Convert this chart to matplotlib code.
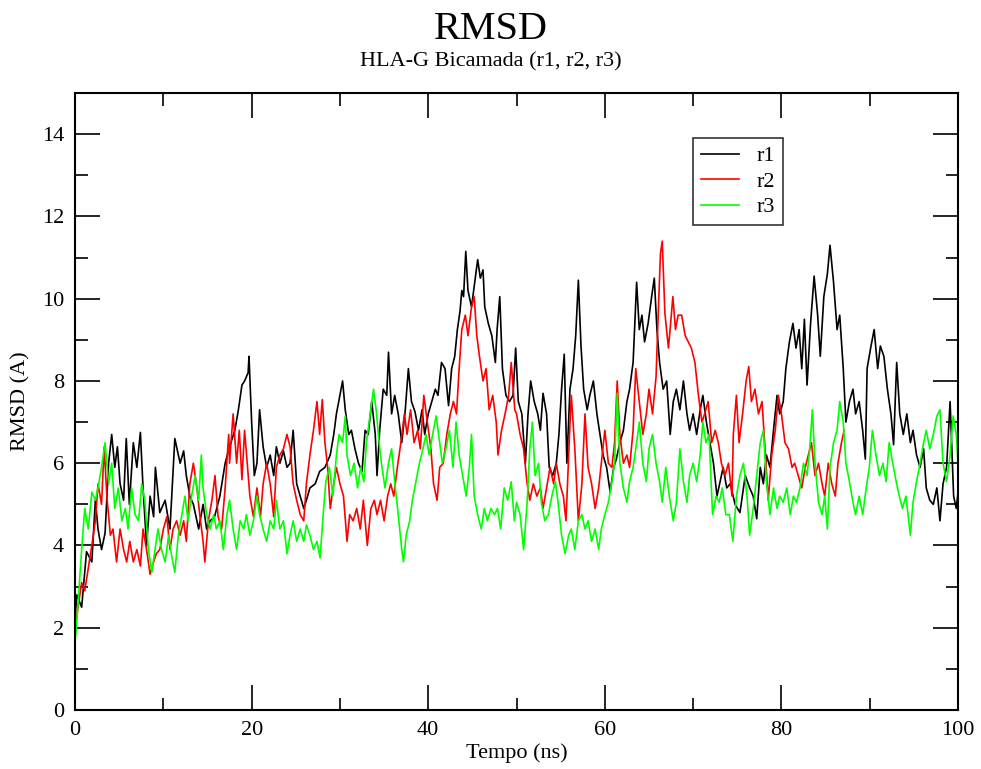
import matplotlib
matplotlib.use("Agg")
import matplotlib.pyplot as plt
from matplotlib.ticker import MultipleLocator

plt.rcParams['font.family'] = ['Liberation Serif', 'DejaVu Serif']

# r1 (black)
r1_t = [0.0, 0.2, 0.75, 1.3, 1.9, 2.3, 2.6, 3.0, 3.4, 3.8, 4.15, 4.5, 4.8, 5.1, 5.5, 5.8, 6.15, 6.6,
        7.0, 7.4, 7.7, 8.1, 8.5, 8.9, 9.1, 9.6, 10.2, 10.75, 11.3, 11.9, 12.3, 12.6, 13.0, 13.4, 14.0,
        14.5, 14.9, 15.3, 15.8, 16.4, 17.0, 17.5, 18.1, 18.5, 18.9, 19.2, 19.6, 19.7, 20.0, 20.3, 20.6,
        20.9, 21.3, 21.7, 22.1, 22.5, 22.8, 23.2, 23.6, 24.0, 24.35, 24.7, 25.1, 25.5, 25.9, 26.2,
        26.6, 27.2, 27.7, 28.3, 28.9, 29.3, 29.6, 30.0, 30.3, 30.6, 31.0, 31.3, 31.7, 32.1, 32.5,
        32.85, 33.2, 33.6, 34.0, 34.2, 34.5, 34.9, 35.3, 35.5, 35.85, 36.2, 36.6, 37.0, 37.4, 37.75,
        38.1, 38.5, 38.9, 39.3, 39.6, 40.0, 40.4, 40.8, 41.1, 41.5, 41.9, 42.3, 42.65, 43.0, 43.3,
        43.6, 43.8, 44.0, 44.25, 44.5, 44.9, 45.3, 45.6, 45.9, 46.2, 46.4, 46.8, 47.2, 47.6, 47.8,
        48.1, 48.4, 48.8, 49.2, 49.6, 49.9, 50.2, 50.6, 51.0, 51.3, 51.6, 52.0, 52.4, 52.7, 53.0,
        53.4, 53.7, 54.1, 54.5, 54.8, 55.1, 55.4, 55.7, 56.05, 56.4, 56.7, 57.0, 57.3, 57.6, 58.0,
        58.3, 58.7, 59.1, 59.45, 59.8, 60.2, 60.6, 61.0, 61.3, 61.7, 62.1, 62.5, 62.8, 63.2, 63.6,
        63.9, 64.2, 64.5, 64.9, 65.3, 65.6, 65.9, 66.2, 66.6, 67.0, 67.4, 67.75, 68.1, 68.5, 68.9,
        69.3, 69.6, 70.0, 70.4, 70.8, 71.1, 71.5, 71.9, 72.3, 72.7, 73.0, 73.4, 73.8, 74.2, 74.75,
        75.3, 75.9, 76.4, 76.8, 77.2, 77.6, 77.95, 78.3, 78.7, 79.1, 79.5, 79.8, 80.2, 80.5, 80.9,
        81.3, 81.65, 82.0, 82.3, 82.6, 82.9, 83.3, 83.7, 84.1, 84.4, 84.8, 85.2, 85.5, 85.9, 86.3,
        86.6, 87.0, 87.3, 87.7, 88.1, 88.4, 88.8, 89.2, 89.5, 89.7, 90.1, 90.5, 90.9, 91.2, 91.6,
        92.0, 92.4, 92.7, 93.05, 93.4, 93.8, 94.2, 94.6, 94.9, 95.3, 95.7, 96.1, 96.4, 96.8, 97.2,
        97.6, 97.95, 98.3, 98.7, 99.1, 99.5, 99.8, 100.0]
r1_y = [2.2, 2.8, 2.5, 3.85, 3.6, 5.1, 4.4, 3.9, 4.3, 6.0, 6.7, 5.9, 6.4, 5.5, 5.1, 6.6, 5.0, 6.5,
        5.9, 6.75, 5.4, 4.0, 5.2, 4.7, 5.9, 4.8, 5.1, 4.4, 6.6, 6.0, 6.3, 5.7, 5.2, 5.0, 4.4,
        5.0, 4.4, 4.6, 4.7, 5.2, 6.0, 6.4, 6.8, 7.3, 7.9, 8.0, 8.2, 8.6, 7.0, 5.7, 6.0,
        7.3, 6.4, 5.9, 6.2, 5.7, 6.4, 6.0, 6.3, 5.9, 6.0, 6.8, 5.5, 5.2, 4.9, 5.1,
        5.4, 5.5, 5.8, 5.9, 6.2, 6.7, 7.2, 7.65, 8.0, 7.3, 6.7, 6.8, 6.35, 6.0, 5.8,
        6.8, 6.7, 7.5, 6.7, 5.7, 6.8, 7.8, 7.65, 8.7, 7.2, 7.65, 7.2, 6.5, 7.3, 8.3,
        7.5, 7.25, 6.8, 7.3, 6.7, 7.2, 7.5, 7.8, 7.65, 8.45, 8.3, 7.4, 8.3, 8.6, 9.25,
        9.7, 10.2, 10.05, 11.15, 10.2, 9.8, 10.45, 10.95, 10.5, 10.7, 9.8, 9.4, 9.1, 8.45, 9.25,
        10.05, 8.3, 7.65, 7.5, 7.65, 8.8, 7.5, 7.2, 6.0, 7.2, 8.0, 7.5, 7.2, 6.8, 7.7,
        7.2, 5.9, 5.7, 6.0, 6.7, 7.8, 8.65, 6.0, 7.8, 8.3, 9.1, 10.45, 8.85, 7.8, 7.3,
        7.65, 8.0, 7.2, 6.7, 6.2, 5.9, 5.3, 5.9, 6.1, 6.5, 6.8, 7.5, 7.8, 8.45, 10.4,
        9.25, 9.6, 8.95, 9.4, 10.05, 10.5, 9.25, 8.45, 7.8, 8.0, 6.7, 7.5, 7.8, 7.3, 8.0,
        7.2, 6.8, 7.2, 6.7, 7.3, 7.65, 7.0, 6.5, 6.0, 5.2, 5.5, 5.9, 5.4, 5.5, 5.0,
        4.8, 5.7, 5.4, 5.2, 4.65, 5.9, 5.5, 6.2, 5.9, 6.8, 7.65, 7.2, 7.5, 8.3, 8.95,
        9.4, 8.8, 9.25, 8.3, 9.5, 7.9, 9.4, 10.55, 9.6, 8.6, 10.05, 10.6, 11.3, 10.4, 9.25,
        9.6, 8.3, 7.0, 7.5, 7.8, 7.2, 7.5, 6.8, 6.1, 8.3, 8.8, 9.25, 8.3, 8.85, 8.6,
        7.8, 7.2, 6.45, 8.45, 7.2, 6.7, 7.2, 6.5, 6.8, 6.2, 5.9, 6.35, 5.4, 5.1, 5.0,
        5.4, 4.6, 5.5, 5.9, 7.5, 5.2, 4.9, 5.3]

# r2 (red)
r2_t = [0.0, 0.2, 0.75, 1.1, 1.5, 1.9, 2.3, 2.6, 3.0, 3.3, 3.6, 4.0, 4.3, 4.7, 5.1, 5.5, 5.85, 6.2,
        6.6, 7.0, 7.4, 7.7, 8.1, 8.5, 8.9, 9.2, 9.6, 10.0, 10.4, 10.75, 11.1, 11.5, 11.9, 12.3, 12.6,
        13.0, 13.4, 13.8, 14.15, 14.5, 14.7, 15.1, 15.5, 15.85, 16.2, 16.6, 17.0, 17.4, 17.5, 17.9,
        18.3, 18.6, 18.9, 19.2, 19.5, 19.8, 20.2, 20.6, 21.0, 21.3, 21.7, 22.1, 22.5, 22.8, 23.2,
        23.6, 24.0, 24.35, 24.7, 25.1, 25.5, 25.9, 26.2, 26.6, 27.0, 27.4, 27.7, 28.0, 28.3, 28.6,
        28.9, 29.3, 29.6, 30.0, 30.4, 30.8, 31.1, 31.5, 31.9, 32.3, 32.65, 33.1, 33.5, 33.9, 34.2,
        34.6, 35.0, 35.4, 35.75, 36.1, 36.5, 36.9, 37.3, 37.6, 38.0, 38.4, 38.8, 39.1, 39.5, 39.9,
        40.3, 40.6, 41.0, 41.3, 41.7, 42.1, 42.5, 42.85, 43.2, 43.5, 43.8, 44.2, 44.5, 44.9, 45.2,
        45.5, 45.8, 46.2, 46.55, 46.9, 47.3, 47.7, 47.9, 48.3, 48.7, 49.1, 49.4, 49.8, 50.0, 50.4,
        50.8, 51.2, 51.5, 51.9, 52.3, 52.7, 53.0, 53.4, 53.8, 54.2, 54.5, 54.9, 55.3, 55.6, 56.0,
        56.2, 56.6, 57.0, 57.4, 57.75, 58.1, 58.5, 58.9, 59.3, 59.6, 60.0, 60.4, 60.8, 61.1, 61.4,
        61.7, 62.1, 62.5, 62.8, 63.2, 63.5, 63.9, 64.3, 64.7, 65.0, 65.4, 65.8, 66.05, 66.3, 66.5,
        66.8, 67.2, 67.45, 67.7, 68.0, 68.3, 68.7, 69.1, 69.45, 69.8, 70.2, 70.6, 71.0, 71.3, 71.7,
        72.1, 72.5, 72.85, 73.2, 73.6, 74.0, 74.4, 74.55, 74.9, 75.2, 75.6, 76.0, 76.3, 76.6, 77.0,
        77.4, 77.8, 78.1, 78.5, 78.9, 79.3, 79.65, 80.0, 80.4, 80.8, 81.2, 81.5, 81.9, 82.3, 82.7,
        83.05, 83.4, 83.8, 84.2, 84.6, 84.9, 85.3, 85.7, 86.1, 86.4, 86.8, 87.1]
r2_y = [2.0, 2.3, 3.1, 2.9, 3.45, 4.0, 4.6, 5.5, 5.0, 6.4, 5.2, 4.25, 4.4, 3.6, 4.4, 3.9, 3.6, 4.1,
        3.6, 3.9, 3.5, 4.4, 3.9, 3.3, 3.6, 3.8, 3.9, 4.4, 4.7, 3.9, 4.4, 4.6, 4.25, 4.6, 4.1,
        5.5, 6.0, 5.4, 4.7, 4.1, 3.6, 4.6, 5.1, 5.7, 4.7, 4.4, 5.4, 6.7, 6.0, 7.2,
        6.0, 6.8, 5.6, 6.8, 6.0, 5.2, 4.7, 5.4, 4.7, 5.5, 6.0, 5.5, 4.7, 5.9, 6.2,
        6.35, 6.7, 6.4, 5.5, 5.1, 4.75, 4.6, 5.5, 6.2, 6.8, 7.5, 6.7, 7.55, 6.5, 5.9,
        4.9, 5.5, 5.9, 5.5, 5.2, 4.1, 4.75, 4.6, 4.9, 4.4, 5.1, 4.0, 4.9, 5.1, 4.75,
        5.1, 4.6, 5.2, 5.5, 5.2, 5.9, 6.5, 7.2, 6.7, 7.3, 6.5, 6.8, 6.35, 7.65, 7.0,
        6.35, 5.5, 5.1, 5.9, 6.0, 6.7, 7.2, 7.5, 7.2, 8.3, 9.25, 9.6, 9.1, 9.8, 10.05,
        9.1, 8.6, 8.0, 8.3, 7.3, 7.65, 7.0, 6.2, 6.8, 7.2, 7.65, 8.45, 7.3, 7.2, 6.7,
        6.35, 5.5, 5.1, 5.5, 5.2, 5.4, 4.9, 5.4, 5.9, 5.5, 6.0, 5.5, 5.2, 4.6, 6.7,
        7.65, 6.35, 4.6, 5.5, 7.2, 5.9, 5.5, 4.9, 5.4, 6.0, 6.8, 6.0, 5.9, 6.5, 8.0,
        6.7, 6.0, 6.2, 5.9, 6.8, 8.3, 7.5, 6.7, 7.2, 7.8, 7.2, 8.1, 9.65, 11.1, 11.4,
        9.65, 8.8, 9.4, 10.05, 9.25, 9.6, 9.6, 9.1, 8.95, 8.8, 8.45, 7.65, 7.0, 7.2, 7.5,
        6.5, 6.8, 6.5, 6.0, 5.7, 6.0, 5.2, 6.7, 7.65, 6.5, 7.2, 8.0, 8.35, 7.5, 7.8,
        7.2, 7.5, 6.5, 5.1, 6.2, 6.8, 7.65, 7.2, 6.5, 6.35, 5.9, 6.0, 5.7, 5.4, 5.9,
        6.2, 6.5, 5.7, 6.0, 5.5, 5.2, 6.0, 5.5, 5.2, 6.0, 6.5, 6.8]

# r3 (green)
r3_t = [0.0, 0.1, 0.4, 0.75, 1.1, 1.5, 1.9, 2.3, 2.6, 3.0, 3.4, 3.8, 4.15, 4.5, 4.9, 5.3, 5.7, 6.0,
        6.4, 6.8, 7.2, 7.55, 7.9, 8.3, 8.7, 9.05, 9.4, 9.8, 10.2, 10.6, 10.9, 11.3, 11.7, 12.1, 12.45,
        12.8, 13.2, 13.6, 14.0, 14.3, 14.5, 14.9, 15.3, 15.7, 16.0, 16.4, 16.8, 17.2, 17.5, 17.9,
        18.3, 18.7, 19.1, 19.4, 19.8, 20.2, 20.6, 20.9, 21.3, 21.7, 22.1, 22.5, 22.8, 23.2, 23.6,
        24.0, 24.35, 24.7, 25.1, 25.5, 25.9, 26.2, 26.6, 27.0, 27.4, 27.75, 28.1, 28.4, 28.8, 29.2,
        29.6, 29.9, 30.3, 30.6, 30.8, 31.2, 31.6, 32.0, 32.35, 32.7, 33.0, 33.4, 33.8, 34.1, 34.35,
        34.7, 35.1, 35.5, 35.85, 36.2, 36.6, 37.0, 37.2, 37.5, 37.9, 38.2, 38.6, 39.0, 39.4, 39.75,
        40.1, 40.5, 40.9, 41.3, 41.6, 42.0, 42.4, 42.8, 43.15, 43.5, 43.9, 44.3, 44.65, 44.9, 45.2,
        45.6, 46.0, 46.35, 46.7, 47.1, 47.5, 47.85, 48.2, 48.6, 49.0, 49.4, 49.75, 50.0, 50.4, 50.8,
        51.2, 51.5, 51.8, 52.1, 52.5, 52.8, 53.2, 53.6, 54.0, 54.4, 54.7, 55.1, 55.5, 55.9, 56.2,
        56.6, 57.0, 57.4, 57.75, 58.1, 58.5, 58.9, 59.3, 59.6, 60.0, 60.4, 60.8, 61.1, 61.4, 61.7,
        62.1, 62.5, 62.8, 63.2, 63.6, 63.9, 64.3, 64.7, 65.0, 65.4, 65.8, 66.2, 66.5, 66.9, 67.3,
        67.75, 68.1, 68.5, 68.9, 69.3, 69.6, 70.0, 70.4, 70.8, 71.1, 71.45, 71.8, 72.2, 72.6, 72.95,
        73.3, 73.7, 74.1, 74.5, 74.9, 75.3, 75.7, 76.1, 76.4, 76.8, 77.2, 77.6, 77.95, 78.3, 78.7,
        79.1, 79.5, 79.8, 80.2, 80.6, 81.0, 81.35, 81.7, 82.1, 82.5, 82.9, 83.2, 83.5, 83.8, 84.2,
        84.6, 84.9, 85.2, 85.5, 85.9, 86.3, 86.6, 87.0, 87.3, 87.7, 88.1, 88.4, 88.8, 89.2, 89.6,
        89.95, 90.3, 90.7, 91.1, 91.5, 91.85, 92.2, 92.6, 93.0, 93.35, 93.7, 94.1, 94.6, 94.9, 95.3,
        95.7, 96.1, 96.4, 96.8, 97.2, 97.6, 97.95, 98.3, 98.7, 99.1, 99.45, 99.8, 100.0]
r3_y = [1.7, 1.85, 2.8, 3.9, 4.9, 4.4, 5.3, 5.1, 5.4, 5.9, 6.5, 5.5, 6.0, 4.9, 5.4, 4.6, 4.9, 4.4,
        5.4, 4.75, 4.6, 5.5, 5.1, 3.9, 3.35, 3.9, 4.4, 3.9, 3.6, 4.25, 3.8, 3.35, 4.25, 4.75, 5.2,
        4.6, 5.2, 5.7, 5.1, 6.2, 5.4, 4.75, 4.4, 4.75, 4.4, 4.6, 3.9, 4.75, 5.1, 4.4,
        3.9, 4.6, 4.4, 4.75, 4.25, 4.6, 5.2, 4.75, 4.4, 4.1, 4.6, 4.4, 5.1, 4.4, 4.6,
        3.8, 4.25, 4.6, 4.1, 4.4, 4.1, 4.5, 4.25, 3.9, 4.1, 3.7, 4.75, 5.55, 5.9, 5.2,
        6.2, 6.7, 6.5, 7.15, 6.2, 5.7, 6.0, 5.4, 5.9, 5.55, 6.5, 7.15, 7.8, 7.3, 6.7,
        6.0, 5.4, 6.0, 6.35, 5.55, 4.75, 3.9, 3.6, 4.25, 4.6, 5.1, 5.55, 6.0, 6.35, 6.7,
        6.2, 6.7, 7.15, 6.5, 6.0, 6.35, 6.8, 5.9, 7.0, 6.2, 5.7, 5.2, 5.9, 6.7, 5.2,
        4.75, 4.4, 4.9, 4.6, 4.9, 4.75, 4.9, 4.4, 5.4, 5.1, 5.55, 4.6, 5.05, 4.75, 3.9,
        5.05, 6.35, 7.0, 5.7, 6.0, 5.05, 4.6, 4.75, 5.2, 5.55, 5.05, 4.25, 3.8, 4.25, 4.4,
        3.9, 4.6, 4.75, 4.4, 4.6, 4.1, 4.4, 3.9, 4.4, 4.75, 5.05, 5.55, 6.0, 7.7, 6.0,
        5.4, 5.05, 5.55, 5.9, 6.5, 7.0, 6.0, 5.55, 6.35, 6.7, 6.0, 5.55, 5.05, 5.9, 5.2,
        4.6, 5.05, 6.35, 5.55, 5.05, 5.7, 6.0, 5.55, 6.2, 7.0, 6.5, 6.7, 4.75, 5.2, 5.05,
        5.4, 4.75, 4.75, 4.1, 5.2, 5.7, 6.0, 5.2, 4.25, 4.9, 5.7, 6.5, 6.8, 5.55, 4.75,
        5.4, 4.9, 5.2, 5.05, 5.4, 4.75, 5.2, 5.05, 5.4, 6.0, 5.7, 6.35, 7.3, 6.0, 5.05,
        4.75, 5.2, 4.4, 5.9, 6.5, 6.8, 7.5, 7.0, 6.0, 5.55, 5.05, 4.75, 5.2, 4.75, 5.4,
        5.9, 6.8, 6.2, 5.7, 6.0, 5.55, 6.5, 6.0, 5.55, 5.2, 4.9, 5.2, 4.25, 5.05, 5.55,
        6.0, 6.5, 6.8, 6.35, 6.7, 7.15, 7.3, 6.0, 5.55, 6.2, 7.15, 6.7, 6.0]

fig = plt.figure(figsize=(9.81, 7.69), dpi=100)
ax = fig.add_axes([0.0765, 0.0767, 0.9001, 0.8023])

ax.plot(r1_t, r1_y, color='black', lw=1.2, label='r1')
ax.plot(r2_t, r2_y, color='#ff0000', lw=1.2, label='r2')
ax.plot(r3_t, r3_y, color='#00ff00', lw=1.2, label='r3')

ax.set_xlim(0, 100)
ax.set_ylim(0, 15)
ax.xaxis.set_major_locator(MultipleLocator(20))
ax.xaxis.set_minor_locator(MultipleLocator(10))
ax.yaxis.set_major_locator(MultipleLocator(2))
ax.yaxis.set_minor_locator(MultipleLocator(1))
ax.tick_params(which='both', direction='in', top=True, right=True, labelsize=16, width=1.2)
ax.tick_params(which='major', length=18, pad=8)
ax.tick_params(which='minor', length=9)
for s in ax.spines.values():
    s.set_linewidth(1.5)

ax.set_xlabel('Tempo (ns)', fontsize=16, labelpad=2)
ax.set_ylabel('RMSD (A)', fontsize=16, labelpad=8)

fig.text(0.5, 0.962, 'RMSD', ha='center', va='center', fontsize=29)
fig.text(0.5, 0.919, 'HLA-G Bicamada (r1, r2, r3)', ha='center', va='center', fontsize=16)

leg = ax.legend(loc='upper left', bbox_to_anchor=(0.700, 0.927), fontsize=16, frameon=True,
                fancybox=False, handlelength=1.7, handletextpad=0.8, borderpad=0.35,
                labelspacing=0.22, borderaxespad=0)
leg.get_frame().set_edgecolor('black')
leg.get_frame().set_linewidth(1.2)

fig.savefig('out.png', dpi=100)
